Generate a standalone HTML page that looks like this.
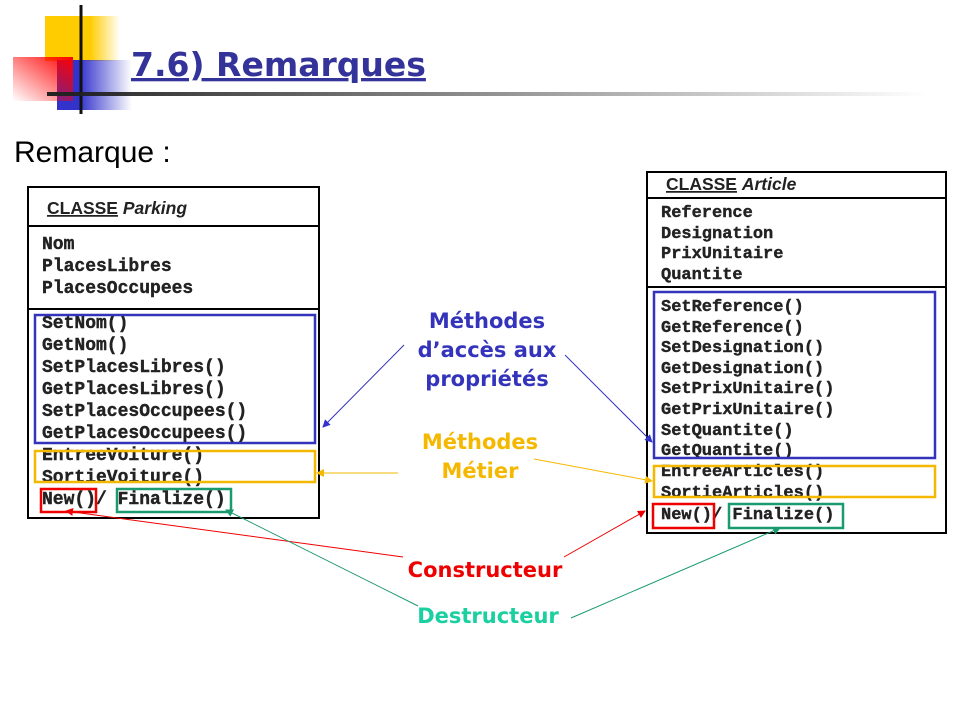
<!DOCTYPE html>
<html><head><meta charset="utf-8"><style>
html,body{margin:0;padding:0;background:#fff;width:960px;height:720px;overflow:hidden}
</style></head><body>
<svg width="960" height="720" viewBox="0 0 960 720" xmlns="http://www.w3.org/2000/svg">
<defs>
<linearGradient id="yl" x1="0" x2="1"><stop offset="0.6" stop-color="#ffcc00"/><stop offset="1" stop-color="#ffcc00" stop-opacity="0"/></linearGradient>
<linearGradient id="rd" x1="1" y1="0" x2="0" y2="1"><stop offset="0" stop-color="#ff0000"/><stop offset="1" stop-color="#ff0000" stop-opacity="0"/></linearGradient>
<linearGradient id="bl" x1="0" x2="1"><stop offset="0.3" stop-color="#3333cc"/><stop offset="1" stop-color="#3333cc" stop-opacity="0"/></linearGradient>
<linearGradient id="ln" x1="0" x2="1"><stop offset="0" stop-color="#222"/><stop offset="1" stop-color="#222" stop-opacity="0"/></linearGradient>
<marker id="ab" markerWidth="8" markerHeight="8" refX="7" refY="4" orient="auto" markerUnits="userSpaceOnUse"><path d="M0,0 L8,4 L0,8 z" fill="#3333cc"/></marker>
<marker id="ay" markerWidth="8" markerHeight="8" refX="7" refY="4" orient="auto" markerUnits="userSpaceOnUse"><path d="M0,0 L8,4 L0,8 z" fill="#f5b800"/></marker>
<marker id="ar" markerWidth="8" markerHeight="8" refX="7" refY="4" orient="auto" markerUnits="userSpaceOnUse"><path d="M0,0 L8,4 L0,8 z" fill="#e00"/></marker>
<marker id="ag" markerWidth="8" markerHeight="8" refX="7" refY="4" orient="auto" markerUnits="userSpaceOnUse"><path d="M0,0 L8,4 L0,8 z" fill="#1a9a70"/></marker>
</defs>
<rect x="45" y="16" width="75" height="45" fill="url(#yl)"/>
<rect x="57" y="60" width="75" height="50" fill="url(#bl)"/>
<rect x="13" y="57" width="60" height="44" fill="url(#rd)"/>
<line x1="81" y1="5" x2="81" y2="114" stroke="#111" stroke-width="3"/>
<rect x="47" y="92" width="880" height="4" fill="url(#ln)"/>
<text x="131" y="76" font-family="DejaVu Sans, sans-serif" font-weight="bold" font-size="33" fill="#333399" text-decoration="underline">7.6) Remarques</text>
<text x="14" y="162" font-family="Liberation Sans, sans-serif" font-size="30" fill="#000">Remarque :</text>

<g font-family="Liberation Mono, monospace" font-weight="bold" font-size="18" fill="#222" stroke="#222" stroke-width="0.4">
<rect x="28" y="187" width="291" height="331" fill="#fff" stroke="#000" stroke-width="2"/>
<line x1="28" y1="226" x2="319" y2="226" stroke="#000" stroke-width="2"/>
<line x1="28" y1="309" x2="319" y2="309" stroke="#000" stroke-width="2"/>
<text x="47" y="214" font-family="Liberation Sans, sans-serif" font-size="17.5" stroke="none"><tspan text-decoration="underline">CLASSE</tspan> <tspan font-style="italic">Parking</tspan></text>
<g>
<text x="42" y="249">Nom</text><text x="42" y="271">PlacesLibres</text><text x="42" y="293">PlacesOccupees</text>
<text x="42" y="328">SetNom()</text><text x="42" y="350">GetNom()</text><text x="42" y="372">SetPlacesLibres()</text><text x="42" y="394">GetPlacesLibres()</text><text x="42" y="416">SetPlacesOccupees()</text><text x="42" y="438">GetPlacesOccupees()</text><text x="42" y="460">EntreeVoiture()</text><text x="42" y="482">SortieVoiture()</text><text x="42" y="504">New()/ Finalize()</text>
</g>
<g stroke-width="2.5" fill="none">
<rect x="35" y="315" width="280" height="128" stroke="#3333bb"/>
<rect x="35" y="451" width="280" height="31" stroke="#f5b800"/>
<rect x="41" y="489" width="55" height="23" stroke="#e00"/>
<rect x="117" y="489" width="114" height="23" stroke="#1a9a70"/>
</g>

<rect x="647" y="172" width="299" height="361" fill="#fff" stroke="#000" stroke-width="2"/>
<line x1="647" y1="198" x2="946" y2="198" stroke="#000" stroke-width="2"/>
<line x1="647" y1="287" x2="946" y2="287" stroke="#000" stroke-width="2"/>
<text x="666" y="190" font-family="Liberation Sans, sans-serif" font-size="17.5" stroke="none"><tspan text-decoration="underline">CLASSE</tspan> <tspan font-style="italic">Article</tspan></text>
<g font-size="17">
<text x="661" y="217">Reference</text><text x="661" y="238">Designation</text><text x="661" y="258">PrixUnitaire</text><text x="661" y="279">Quantite</text>
<text x="661" y="311">SetReference()</text><text x="661" y="332">GetReference()</text><text x="661" y="352">SetDesignation()</text><text x="661" y="373">GetDesignation()</text><text x="661" y="393">SetPrixUnitaire()</text><text x="661" y="414">GetPrixUnitaire()</text><text x="661" y="435">SetQuantite()</text><text x="661" y="455">GetQuantite()</text><text x="661" y="476">EntreeArticles()</text><text x="661" y="497">SortieArticles()</text><text x="661" y="519">New()/ Finalize()</text>
</g>
<g stroke-width="2.5" fill="none">
<rect x="654" y="292" width="281" height="166" stroke="#3333bb"/>
<rect x="654" y="466" width="281" height="31" stroke="#f5b800"/>
<rect x="653" y="504" width="61" height="24" stroke="#e00"/>
<rect x="729" y="504" width="114" height="24" stroke="#1a9a70"/>
</g>
</g>

<g font-family="DejaVu Sans, sans-serif" font-weight="bold" font-size="21" text-anchor="middle">
<text x="487" y="328" fill="#3333bb">Méthodes</text>
<text x="487" y="357" fill="#3333bb">d’accès aux</text>
<text x="487" y="386" fill="#3333bb">propriétés</text>
<text x="480" y="449" fill="#f5b800">Méthodes</text>
<text x="480" y="478" fill="#f5b800">Métier</text>
<text x="485" y="577" fill="#e00">Constructeur</text>
<text x="488" y="623" fill="#1ad0a0">Destructeur</text>
</g>
<g stroke-width="1">
<line x1="404" y1="345" x2="323" y2="427" stroke="#3333bb" marker-end="url(#ab)"/>
<line x1="565" y1="355" x2="652" y2="442" stroke="#3333bb" marker-end="url(#ab)"/>
<line x1="398" y1="473" x2="317" y2="473" stroke="#f5b800" marker-end="url(#ay)"/>
<line x1="534" y1="459" x2="652" y2="481" stroke="#f5b800" marker-end="url(#ay)"/>
<line x1="403" y1="557" x2="66" y2="511" stroke="#e00" marker-end="url(#ar)"/>
<line x1="564" y1="557" x2="645" y2="511" stroke="#e00" marker-end="url(#ar)"/>
<line x1="418" y1="606" x2="226" y2="510" stroke="#1a9a70" marker-end="url(#ag)"/>
<line x1="571" y1="618" x2="780" y2="528" stroke="#1a9a70" marker-end="url(#ag)"/>
</g>
</svg>
</body></html>
